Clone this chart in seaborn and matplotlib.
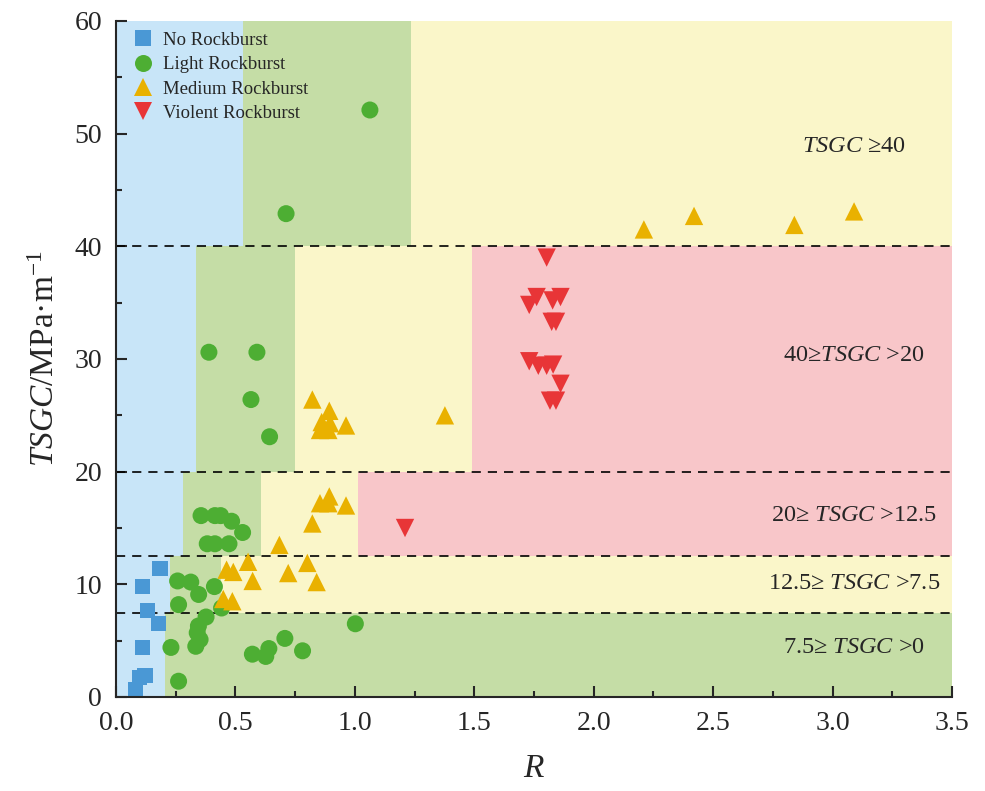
import numpy as np
import pandas as pd
import matplotlib
matplotlib.use("Agg")
import matplotlib.pyplot as plt
import seaborn as sns

# ---------------- data ----------------
classes = ["No Rockburst", "Light Rockburst", "Medium Rockburst", "Violent Rockburst"]

no_R = [0.184, 0.112, 0.133, 0.179, 0.112, 0.121, 0.098, 0.082]
no_T = [11.4, 9.8, 7.7, 6.5, 4.4, 1.9, 1.7, 0.7]

light_R = [1.063, 0.712, 0.389, 0.590, 0.565, 0.643, 0.356, 0.414, 0.438, 0.484, 0.530,
           0.382, 0.414, 0.473, 0.258, 0.313, 0.346, 0.412, 0.262, 0.442, 0.377, 0.345,
           0.340, 0.352, 0.334, 0.230, 0.262, 0.571, 0.627, 0.640, 0.707, 0.781, 1.002]
light_T = [52.1, 42.9, 30.6, 30.6, 26.4, 23.1, 16.1, 16.1, 16.1, 15.6, 14.6,
           13.6, 13.6, 13.6, 10.3, 10.2, 9.1, 9.8, 8.2, 7.9, 7.1, 6.3,
           5.7, 5.1, 4.5, 4.4, 1.4, 3.8, 3.6, 4.3, 5.2, 4.1, 6.5]

medium_R = [2.21, 2.42, 2.84, 3.09, 0.822, 0.893, 0.861, 0.896, 0.854, 0.889, 0.963, 1.377,
            0.684, 0.822, 0.854, 0.893, 0.889, 0.963, 0.463, 0.491, 0.553, 0.572, 0.721,
            0.801, 0.840, 0.449, 0.487]
medium_T = [41.5, 42.7, 41.9, 43.1, 26.4, 25.4, 24.4, 24.3, 23.7, 23.7, 24.1, 25.0,
            13.5, 15.4, 17.2, 17.8, 17.2, 17.0, 11.3, 11.1, 12.0, 10.3, 11.0,
            11.9, 10.2, 8.7, 8.5]

violent_R = [1.803, 1.761, 1.730, 1.828, 1.861, 1.824, 1.842, 1.730, 1.768, 1.803,
             1.830, 1.861, 1.817, 1.842, 1.210]
violent_T = [39.0, 35.5, 34.8, 35.2, 35.5, 33.3, 33.3, 29.8, 29.4, 29.4,
             29.5, 27.8, 26.3, 26.3, 15.0]

# zone bands: (y_low, y_high, x breakpoints, zone names)
band_limits = [(0, 7.5), (7.5, 12.5), (12.5, 20), (20, 40), (40, 60)]
band_breaks = [[0, 0.205, 3.5],
               [0, 0.226, 0.44, 3.5],
               [0, 0.28, 0.607, 1.013, 3.5],
               [0, 0.335, 0.75, 1.49, 3.5],
               [0, 0.53, 1.235, 3.5]]
band_zones = [["none", "light"],
              ["none", "light", "medium"],
              ["none", "light", "medium", "violent"],
              ["none", "light", "medium", "violent"],
              ["none", "light", "medium"]]
divider_levels = [7.5, 12.5, 20, 40]
zone_labels = [r"$\mathit{TSGC}$ ≥40", r"40≥$\mathit{TSGC}$ >20", r"20≥ $\mathit{TSGC}$ >12.5",
               r"12.5≥ $\mathit{TSGC}$ >7.5", r"7.5≥ $\mathit{TSGC}$ >0"]
zone_label_y = [48.9, 30.3, 16.1, 10.1, 4.4]
zone_label_x = 3.09

x_ticks = [0.0, 0.5, 1.0, 1.5, 2.0, 2.5, 3.0, 3.5]
y_ticks = [0, 10, 20, 30, 40, 50, 60]

# ---------------- styling ----------------
zone_colors = {"none": "#C8E5F8", "light": "#C5DDA6", "medium": "#FAF6C9", "violent": "#F8C6C9"}
palette = {"No Rockburst": "#4A98D5", "Light Rockburst": "#4DAE33",
           "Medium Rockburst": "#E9B100", "Violent Rockburst": "#E83537"}
markers = {"No Rockburst": "s", "Light Rockburst": "o",
           "Medium Rockburst": "^", "Violent Rockburst": "v"}
sizes = {"No Rockburst": 120, "Light Rockburst": 150,
         "Medium Rockburst": 175, "Violent Rockburst": 175}

df = pd.concat([
    pd.DataFrame({"R": no_R, "TSGC": no_T, "cls": classes[0]}),
    pd.DataFrame({"R": light_R, "TSGC": light_T, "cls": classes[1]}),
    pd.DataFrame({"R": medium_R, "TSGC": medium_T, "cls": classes[2]}),
    pd.DataFrame({"R": violent_R, "TSGC": violent_T, "cls": classes[3]}),
], ignore_index=True)

sns.set_theme(style="ticks")
plt.rcParams["font.family"] = ["Liberation Serif", "DejaVu Serif"]
plt.rcParams["mathtext.fontset"] = "custom"
plt.rcParams["mathtext.rm"] = "Liberation Serif"
plt.rcParams["mathtext.it"] = "Liberation Serif:italic"
plt.rcParams["mathtext.bf"] = "Liberation Serif:bold"

fig = plt.figure(figsize=(9.85, 7.91), dpi=100)
ax = fig.add_axes([116 / 985, 1 - 697 / 791, (952 - 116) / 985, (697 - 21) / 791])

# background zones
for (ylo, yhi), brks, zones in zip(band_limits, band_breaks, band_zones):
    for i, z in enumerate(zones):
        ax.fill_between([brks[i], brks[i + 1]], ylo, yhi, color=zone_colors[z],
                        linewidth=0, zorder=0)

for lv in divider_levels:
    ax.axhline(lv, color="black", lw=1.2, ls=(0, (5.5, 4.2)), zorder=1)

sns.scatterplot(data=df, x="R", y="TSGC", hue="cls", style="cls", size="cls",
                hue_order=classes, style_order=classes, size_order=classes,
                palette=palette, markers=markers, sizes=sizes,
                linewidth=0, alpha=1, ax=ax, zorder=3, legend="full")

for lab, yy in zip(zone_labels, zone_label_y):
    ax.text(zone_label_x, yy, lab, ha="center", va="center", fontsize=17.5, zorder=4)

ax.set_xlim(0, 3.5)
ax.set_ylim(0, 60)
ax.set_xticks(x_ticks)
ax.set_xticklabels([f"{v:.1f}" for v in x_ticks])
ax.set_yticks(y_ticks)
ax.set_xticks(np.arange(0.25, 3.5, 0.5), minor=True)
ax.set_yticks(np.arange(5, 60, 10), minor=True)
ax.tick_params(axis="both", which="major", direction="in", length=8, width=1.5,
               labelsize=20, pad=10)
ax.tick_params(axis="both", which="minor", direction="in", length=4.5, width=1.5)
for side in ["top", "right"]:
    ax.spines[side].set_visible(False)
for side in ["left", "bottom"]:
    ax.spines[side].set_linewidth(1.5)
    ax.spines[side].set_zorder(5)

ax.set_xlabel(r"$\mathit{R}$", fontsize=24, labelpad=13)
ax.set_ylabel(r"$\mathit{TSGC}$/MPa·m$^{-1}$", fontsize=24, labelpad=10)

sns.move_legend(ax, "upper left", bbox_to_anchor=(0.012, 0.995), borderaxespad=0,
                frameon=False, title=None, fontsize=13.5, handlelength=1.0,
                handletextpad=0.57, labelspacing=0.38)

fig.savefig("out.png", dpi=100)
